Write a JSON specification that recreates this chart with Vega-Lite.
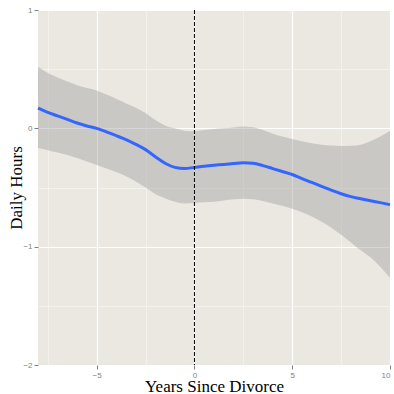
{
  "$schema": "https://vega.github.io/schema/vega-lite/v6.json",
  "autosize": "none",
  "width": 352,
  "height": 355,
  "padding": {"left": 38, "top": 10, "right": 4, "bottom": 29},
  "background": "white",
  "config": {
    "view": {"fill": "#EAE8E1", "stroke": null},
    "axis": {
      "labelFont": "Liberation Sans",
      "labelFontSize": 8,
      "labelColor": "#7F7F7F",
      "tickColor": "#7F7F7F",
      "tickSize": 4,
      "tickWidth": 1,
      "domain": false,
      "titleFont": "Liberation Serif",
      "titleFontSize": 17,
      "titleFontWeight": "normal",
      "titleColor": "black"
    }
  },
  "datasets": {
    "smooth": [
      {"years": -8, "fit": 0.17, "lo": -0.167, "hi": 0.52},
      {"years": -7.5, "fit": 0.135, "lo": -0.185, "hi": 0.467},
      {"years": -7, "fit": 0.105, "lo": -0.205, "hi": 0.43},
      {"years": -6.5, "fit": 0.075, "lo": -0.225, "hi": 0.395},
      {"years": -6, "fit": 0.045, "lo": -0.25, "hi": 0.365},
      {"years": -5.5, "fit": 0.02, "lo": -0.28, "hi": 0.34},
      {"years": -5, "fit": 0.0, "lo": -0.31, "hi": 0.32},
      {"years": -4.5, "fit": -0.03, "lo": -0.34, "hi": 0.285},
      {"years": -4, "fit": -0.062, "lo": -0.37, "hi": 0.25},
      {"years": -3.5, "fit": -0.095, "lo": -0.405, "hi": 0.21},
      {"years": -3, "fit": -0.135, "lo": -0.45, "hi": 0.175},
      {"years": -2.5, "fit": -0.18, "lo": -0.5, "hi": 0.13},
      {"years": -2, "fit": -0.24, "lo": -0.555, "hi": 0.07},
      {"years": -1.5, "fit": -0.295, "lo": -0.59, "hi": 0.025},
      {"years": -1, "fit": -0.33, "lo": -0.62, "hi": 0.0},
      {"years": -0.5, "fit": -0.34, "lo": -0.635, "hi": -0.02},
      {"years": 0, "fit": -0.33, "lo": -0.63, "hi": -0.025},
      {"years": 0.5, "fit": -0.32, "lo": -0.625, "hi": -0.015},
      {"years": 1, "fit": -0.312, "lo": -0.62, "hi": -0.005},
      {"years": 1.5, "fit": -0.305, "lo": -0.61, "hi": 0.0},
      {"years": 2, "fit": -0.297, "lo": -0.6, "hi": 0.008},
      {"years": 2.5, "fit": -0.29, "lo": -0.595, "hi": 0.015},
      {"years": 3, "fit": -0.295, "lo": -0.6, "hi": 0.01},
      {"years": 3.5, "fit": -0.315, "lo": -0.615, "hi": -0.015},
      {"years": 4, "fit": -0.34, "lo": -0.635, "hi": -0.045},
      {"years": 4.5, "fit": -0.365, "lo": -0.655, "hi": -0.07},
      {"years": 5, "fit": -0.39, "lo": -0.68, "hi": -0.09},
      {"years": 5.5, "fit": -0.425, "lo": -0.71, "hi": -0.11},
      {"years": 6, "fit": -0.457, "lo": -0.745, "hi": -0.125},
      {"years": 6.5, "fit": -0.49, "lo": -0.79, "hi": -0.138},
      {"years": 7, "fit": -0.522, "lo": -0.84, "hi": -0.146},
      {"years": 7.5, "fit": -0.553, "lo": -0.9, "hi": -0.15},
      {"years": 8, "fit": -0.577, "lo": -0.965, "hi": -0.148},
      {"years": 8.5, "fit": -0.595, "lo": -1.03, "hi": -0.138},
      {"years": 9, "fit": -0.612, "lo": -1.09, "hi": -0.11},
      {"years": 9.5, "fit": -0.628, "lo": -1.17, "hi": -0.07},
      {"years": 10, "fit": -0.645, "lo": -1.265, "hi": -0.02}
    ],
    "divorce": [{"years": 0}]
  },
  "resolve": {"axis": {"x": "independent", "y": "independent"}},
  "layer": [
    {
      "data": {"name": "smooth"},
      "mark": {"type": "area", "fill": "#999999", "opacity": 0.4, "interpolate": "monotone"},
      "encoding": {
        "x": {
          "field": "years", "type": "quantitative",
          "scale": {"domain": [-8, 10], "nice": false, "zero": false},
          "axis": {"orient": "top", "values": [-7.5, -2.5, 2.5, 7.5], "labels": false, "ticks": false, "title": null, "grid": true, "gridColor": "#F4F3EF", "gridWidth": 0.8}
        },
        "y": {
          "field": "lo", "type": "quantitative",
          "scale": {"domain": [-2, 1], "nice": false, "zero": false},
          "axis": {"orient": "right", "values": [-1.5, -0.5, 0.5], "labels": false, "ticks": false, "title": null, "grid": true, "gridColor": "#F4F3EF", "gridWidth": 0.8}
        },
        "y2": {"field": "hi"}
      }
    },
    {
      "data": {"name": "smooth"},
      "mark": {"type": "line", "color": "#3366FF", "strokeWidth": 3, "interpolate": "monotone"},
      "encoding": {
        "x": {
          "field": "years", "type": "quantitative",
          "axis": {"orient": "bottom", "values": [-5, 0, 5, 10], "title": "Years Since Divorce", "grid": true, "gridColor": "white", "gridWidth": 1.2, "labelPadding": 2, "titleBaseline": "alphabetic", "titleY": 26.5, "titleX": 176}
        },
        "y": {
          "field": "fit", "type": "quantitative",
          "axis": {"orient": "left", "values": [-2, -1, 0, 1], "title": "Daily Hours", "grid": true, "gridColor": "white", "gridWidth": 1.2, "labelPadding": 2, "titleBaseline": "alphabetic", "titleX": -17, "titleY": 177.5}
        }
      }
    },
    {
      "data": {"name": "divorce"},
      "mark": {"type": "rule", "color": "black", "strokeWidth": 1, "strokeDash": [4, 2]},
      "encoding": {
        "x": {"field": "years", "type": "quantitative", "axis": null}
      }
    }
  ]
}
